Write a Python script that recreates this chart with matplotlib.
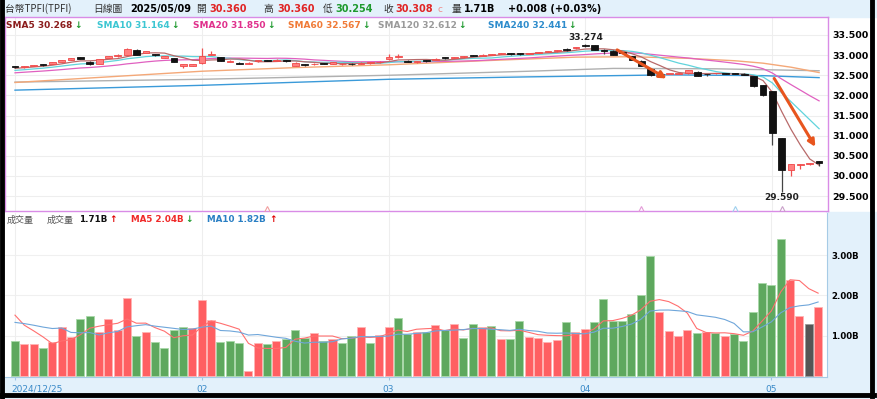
import numpy as np
import pandas as pd
import matplotlib
matplotlib.use("Agg")
import matplotlib.pyplot as plt
import matplotlib.transforms as mtransforms
from matplotlib.patches import Rectangle
from matplotlib.lines import Line2D

W, H = 877, 399
CJK = ['Noto Sans CJK TC', 'DejaVu Sans']

# ---------------- data ----------------
opens = [32.705, 32.70, 32.73, 32.765, 32.78, 32.83, 32.88, 32.95, 32.84, 32.78,
         32.94, 32.97, 33.01, 33.13, 33.06, 33.015, 32.93, 32.93, 32.74, 32.74,
         32.80, 33.01, 32.95, 32.83, 32.81, 32.78, 32.855, 32.865, 32.86, 32.86,
         32.74, 32.76, 32.77, 32.795, 32.79, 32.77, 32.79, 32.79, 32.80, 32.82,
         32.90, 32.95, 32.86, 32.82, 32.87, 32.88, 32.93, 32.93, 32.95, 32.99,
         32.99, 33.01, 33.03, 33.035, 33.03, 33.03, 33.06, 33.08, 33.10, 33.13,
         33.17, 33.23, 33.25, 33.11, 33.11, 33.06, 32.98, 32.86, 32.65, 32.525,
         32.53, 32.535, 32.55, 32.59, 32.525, 32.545, 32.545, 32.54, 32.53, 32.47,
         32.26, 32.10, 30.93, 30.15, 30.27, 30.30, 30.36]
highs = [32.72, 32.73, 32.76, 32.78, 32.83, 32.88, 32.93, 32.96, 32.85, 32.91,
         32.99, 33.02, 33.17, 33.15, 33.11, 33.04, 32.98, 32.94, 32.79, 32.79,
         33.18, 33.10, 32.96, 32.87, 32.82, 32.82, 32.88, 32.88, 32.90, 32.87,
         32.82, 32.77, 32.80, 32.80, 32.83, 32.80, 32.80, 32.82, 32.83, 32.85,
         33.04, 33.03, 32.87, 32.86, 32.88, 32.92, 32.95, 32.96, 32.98, 33.01,
         33.02, 33.04, 33.06, 33.05, 33.05, 33.06, 33.09, 33.11, 33.13, 33.17,
         33.21, 33.274, 33.26, 33.16, 33.12, 33.08, 32.99, 32.87, 32.66, 32.54,
         32.54, 32.56, 32.63, 32.60, 32.54, 32.56, 32.56, 32.55, 32.55, 32.48,
         32.27, 32.11, 30.94, 30.30, 30.30, 30.32, 30.36]
lows = [32.68, 32.69, 32.72, 32.74, 32.77, 32.82, 32.87, 32.90, 32.76, 32.77,
        32.93, 32.96, 33.00, 33.00, 33.05, 32.98, 32.92, 32.82, 32.69, 32.73,
        32.79, 33.00, 32.85, 32.82, 32.78, 32.77, 32.84, 32.85, 32.85, 32.83,
        32.73, 32.73, 32.76, 32.78, 32.78, 32.76, 32.76, 32.78, 32.79, 32.81,
        32.89, 32.94, 32.82, 32.81, 32.84, 32.87, 32.91, 32.92, 32.94, 32.97,
        32.98, 33.00, 33.02, 33.01, 33.01, 33.02, 33.05, 33.07, 33.09, 33.11,
        33.16, 33.20, 33.12, 33.04, 33.00, 33.03, 32.87, 32.72, 32.49, 32.50,
        32.52, 32.52, 32.54, 32.48, 32.48, 32.53, 32.52, 32.52, 32.50, 32.22,
        31.98, 30.77, 29.59, 30.00, 30.17, 30.28, 30.254]
closes = [32.70, 32.72, 32.75, 32.76, 32.82, 32.87, 32.92, 32.91, 32.77, 32.90,
          32.98, 33.01, 33.16, 33.01, 33.10, 33.01, 32.97, 32.83, 32.78, 32.78,
          32.97, 33.04, 32.86, 32.86, 32.79, 32.81, 32.86, 32.86, 32.89, 32.855,
          32.81, 32.755, 32.79, 32.79, 32.82, 32.79, 32.77, 32.81, 32.82, 32.84,
          32.96, 32.97, 32.83, 32.85, 32.85, 32.91, 32.925, 32.95, 32.97, 32.985,
          33.01, 33.02, 33.05, 33.03, 33.025, 33.05, 33.08, 33.10, 33.105, 33.125,
          33.20, 33.225, 33.13, 33.10, 33.01, 33.05, 32.88, 32.73, 32.51, 32.52,
          32.53, 32.55, 32.62, 32.49, 32.52, 32.55, 32.54, 32.535, 32.51, 32.24,
          32.02, 31.07, 30.15, 30.29, 30.29, 30.30, 30.308]
# closes before the first visible day (only feed the moving averages)
pre_close = [32.42, 32.45, 32.47, 32.48, 32.50, 32.51, 32.52, 32.53, 32.55, 32.57,
             32.55, 32.56, 32.57, 32.58, 32.59, 32.64, 32.66, 32.67, 32.69]

volume = [0.87, 0.80, 0.80, 0.69, 0.84, 1.22, 0.96, 1.41, 1.50, 1.09,
          1.41, 1.13, 1.94, 0.98, 1.10, 0.85, 0.69, 1.13, 1.22, 1.19,
          1.88, 1.40, 0.85, 0.87, 0.81, 0.12, 0.82, 0.80, 0.87, 0.93,
          1.15, 0.95, 1.06, 0.87, 0.93, 0.82, 1.00, 1.21, 0.82, 1.01,
          1.22, 1.43, 1.04, 1.10, 1.08, 1.27, 1.13, 1.28, 0.95, 1.28,
          1.22, 1.24, 0.93, 0.93, 1.36, 0.96, 0.95, 0.85, 0.89, 1.34,
          1.10, 1.16, 1.34, 1.90, 1.37, 1.37, 1.55, 2.01, 2.97, 1.58,
          1.12, 0.98, 1.15, 1.07, 1.08, 1.06, 1.00, 1.04, 0.87, 1.60,
          2.30, 2.27, 3.40, 2.37, 1.50, 1.30, 1.71]
vol_dir = ("grrgrrrggr" "rrrgrggggr" "rrgggrrgrg" "ggrgrggrgr" "rggrgrgrgg"
           "rgrggrrrrg" "rrgggggggr" "rrrgrgrggg" "gggrrkr")
pre_vol = [1.10, 1.20, 1.15, 1.20, 1.10, 2.05, 1.50, 1.44, 1.69]

# long averages, read at a few days
sma60_x = [0, 10, 20, 30, 40, 50, 60, 66, 72, 77, 80, 83, 86]
sma60_y = [32.32, 32.46, 32.60, 32.69, 32.76, 32.86, 32.95, 32.96, 32.92, 32.86, 32.80, 32.70, 32.567]
sma120_x = [0, 20, 40, 55, 64, 75, 86]
sma120_y = [32.33, 32.40, 32.50, 32.60, 32.67, 32.66, 32.612]
sma240_x = [0, 20, 40, 55, 70, 80, 86]
sma240_y = [32.13, 32.25, 32.40, 32.46, 32.51, 32.49, 32.441]

tick_idx = [0, 20, 40, 61, 81]
tick_lab = ["2024/12/25", "02", "03", "04", "05"]
event_idx = [27, 67, 77, 82]
event_col = ['#f2a0a0', '#e49ad8', '#9fd0ee', '#c9a0c9']

n = len(closes)
x = np.arange(n)
o, h, l, c = map(np.array, (opens, highs, lows, closes))

allc = pd.Series(pre_close + closes)
sma5 = allc.rolling(5).mean().values[-n:]
sma10 = allc.rolling(10).mean().values[-n:]
sma20 = allc.rolling(20).mean().values[-n:]
allv = pd.Series(pre_vol + volume)
vma5 = allv.rolling(5).mean().values[-n:]
vma10 = allv.rolling(10).mean().values[-n:]

# ---------------- figure ----------------
fig = plt.figure(figsize=(W / 100, H / 100), dpi=100)


def box(x0, y0, x1, y1, color):
    fig.patches.append(Rectangle((x0 / W, 1 - y1 / H), (x1 - x0) / W, (y1 - y0) / H,
                                 transform=fig.transFigure, color=color, zorder=-5))


def ft(xp, yp, s, color='black', size=6.5, weight='bold', family='DejaVu Sans', **kw):
    fig.text(xp / W, 1 - yp / H, s, color=color, fontsize=size, fontweight=weight,
             family=family, ha='left', va='center', **kw)


LB = '#e3f1fb'
box(0, 0, W, 17, LB)
box(826, 212, W, H, LB)
box(0, 376, W, H, LB)

xl = ((5 - 15) / 9.35, (828 - 15) / 9.35)
ax_p = fig.add_axes([5 / W, 1 - 211 / H, 823 / W, 194 / H])
ax_v = fig.add_axes([5 / W, 1 - 377 / H, 822 / W, 164 / H])

# ---- price panel ----
ax_p.set_xlim(xl)
ax_p.set_ylim(33.5 - 176 / 40.25, 33.5 + 18 / 40.25)
pticks = np.arange(29.5, 33.51, 0.5)
for yv in pticks:
    ax_p.axhline(yv, color='#eeeeee', lw=0.8, zorder=0)
for xv in tick_idx:
    ax_p.axvline(xv, color='#eeeeee', lw=0.8, zorder=0)

ax_p.plot(sma240_x, sma240_y, color='#3a9ad9', lw=1.0, zorder=2)
ax_p.plot(sma120_x, sma120_y, color='#b0b0b0', lw=1.0, zorder=2)
ax_p.plot(sma60_x, sma60_y, color='#f4a878', lw=1.0, zorder=2)
ax_p.plot(x, sma20, color='#e060c0', lw=0.9, zorder=2)
ax_p.plot(x, sma10, color='#60d4dc', lw=0.9, zorder=2)
ax_p.plot(x, sma5, color='#b86a6a', lw=0.9, zorder=2)

up = c >= o
wick_col = np.where(up, '#f05050', '#444444')
ax_p.vlines(x, l, h, colors=wick_col, lw=0.9, zorder=3)
ax_p.bar(x, np.maximum(np.abs(c - o), 0.02), bottom=np.minimum(o, c), width=0.72,
         color=np.where(up, '#ff8080', '#111111'), edgecolor=np.where(up, '#f04848', '#111111'),
         lw=0.6, zorder=4)

for (x0, y0), (x1, y1) in [((64.4, 33.13), (69.7, 32.42)), ((81.2, 32.42), (85.6, 30.72))]:
    ax_p.annotate('', xy=(x1, y1), xytext=(x0, y0), zorder=8,
                  arrowprops=dict(arrowstyle='-|>', color='#e8551e', lw=2.2,
                                  mutation_scale=10, shrinkA=0, shrinkB=0))

imax = int(np.argmax(h))
imin = int(np.argmin(l))
ax_p.text(imax, 33.44, f'{h[imax]:.3f}', ha='center', va='center', fontsize=6.5,
          fontweight='bold', color='#222222', zorder=7)
ax_p.text(imin, 29.47, f'{l[imin]:.3f}', ha='center', va='center', fontsize=6.5,
          fontweight='bold', color='#222222', zorder=7)
for xi, col in zip(event_idx, event_col):
    ax_p.plot(xi, 29.18, marker='^', ms=4.5, mfc='none', mec=col, mew=0.8, zorder=5)

ax_p.yaxis.tick_right()
ax_p.set_yticks(pticks)
ax_p.set_yticklabels([f'{v:.3f}' for v in pticks], fontsize=6.8, fontweight='bold')
ax_p.tick_params(axis='y', length=0, pad=3)
ax_p.set_xticks([])
for sp in ax_p.spines.values():
    sp.set_color('#d98ce6')
    sp.set_linewidth(1.0)

# ---- volume panel ----
ax_v.set_xlim(xl)
ax_v.set_ylim(-0.025, 164 / 40.3 - 0.025)
for yv in [1, 2, 3]:
    ax_v.axhline(yv, color='#f0f0f0', lw=0.8, zorder=0)
for xv in tick_idx:
    ax_v.axvline(xv, color='#eeeeee', lw=0.8, zorder=0)
face = {'r': '#ff5f62', 'g': '#5ea85e', 'k': '#555555'}
edge = {'r': '#ffb4b4', 'g': '#a9d8a9', 'k': '#9a9a9a'}
ax_v.bar(x, volume, width=0.86, color=[face[d] for d in vol_dir],
         edgecolor=[edge[d] for d in vol_dir], lw=0.6, zorder=2)
ax_v.plot(x, vma5, color='#ff6f6f', lw=0.8, zorder=3)
ax_v.plot(x, vma10, color='#6fa6da', lw=0.8, zorder=3)

ax_v.yaxis.tick_right()
ax_v.set_yticks([1, 2, 3])
ax_v.set_yticklabels(['1.00B', '2.00B', '3.00B'], fontsize=6.2, fontweight='bold')
ax_v.tick_params(axis='y', length=0, pad=3)
ax_v.set_xticks(tick_idx)
ax_v.set_xticklabels(tick_lab, fontsize=6.5, color='#3a8ac8')
ax_v.tick_params(axis='x', length=2.5, color='#9cc6e4', pad=3)
first = ax_v.get_xticklabels()[0]
first.set_ha('left')
first.set_transform(first.get_transform() + mtransforms.ScaledTranslation(-0.04, 0, fig.dpi_scale_trans))
for name, sp in ax_v.spines.items():
    sp.set_visible(name in ('bottom', 'right'))
    sp.set_color('#a6cbe6')

# ---------------- header texts ----------------
RED, GRN = '#e02424', '#1e9a2e'
ft(5, 9, '台幣TPFI(TPFI)', color='#333333', size=7, weight='normal', family=CJK)
ft(93, 9, '日線圖', color='#333333', size=7, weight='normal', family=CJK)
ft(130, 9, '2025/05/09', size=7)
ft(196, 9, '開', color='#333333', size=7, weight='normal', family=CJK)
ft(209, 9, '30.360', color=RED, size=7)
ft(263, 9, '高', color='#333333', size=7, weight='normal', family=CJK)
ft(277, 9, '30.360', color=RED, size=7)
ft(323, 9, '低', color='#333333', size=7, weight='normal', family=CJK)
ft(335, 9, '30.254', color=GRN, size=7)
ft(383, 9, '收', color='#333333', size=7, weight='normal', family=CJK)
ft(395, 9, '30.308', color=RED, size=7)
ft(437, 9, 'c', color='#f08a8a', size=6.5, weight='normal')
ft(452, 9, '量', color='#333333', size=7, weight='normal', family=CJK)
ft(464, 9, '1.71B', size=7)
ft(508, 9, '+0.008 (+0.03%)', size=7)

sma_labels = [(6, 'SMA5 30.268', '#8b1c1c'), (97, 'SMA10 31.164', '#3cc6d2'),
              (193, 'SMA20 31.850', '#e0308c'), (288, 'SMA60 32.567', '#f07a36'),
              (378, 'SMA120 32.612', '#9a9a9a'), (488, 'SMA240 32.441', '#2e8ccc')]
for xp, s, col in sma_labels:
    ft(xp, 25, s, color=col, size=6.5)
    ft(xp + len(s) * 6.05 + 2, 25, '↓', color=GRN, size=6.5)

ft(7, 220, '成交量', color='#555555', size=6.5, weight='normal', family=CJK)
ft(47, 220, '成交量', color='#555555', size=6.5, weight='normal', family=CJK)
ft(79, 220, '1.71B', color='#111111', size=6.3)
ft(109, 220, '↑', color='#e00000', size=6.5)
ft(131, 220, 'MA5 2.04B', color='#f02828', size=6.3)
ft(185, 220, '↓', color=GRN, size=6.5)
ft(207, 220, 'MA10 1.82B', color='#2a7fc4', size=6.3)
ft(269, 220, '↑', color='#e00000', size=6.5)

# outer frame
fig.add_artist(Line2D([2 / W, 2 / W], [0, 1], color='black', lw=3.5, transform=fig.transFigure))
fig.add_artist(Line2D([872 / W, 872 / W], [1 - 396 / H, 1], color='black', lw=3.5, transform=fig.transFigure))
fig.add_artist(Line2D([0, 874 / W], [1 - 394.5 / H, 1 - 394.5 / H], color='black', lw=3.5,
                      transform=fig.transFigure))

fig.savefig('out.png', dpi=100)
